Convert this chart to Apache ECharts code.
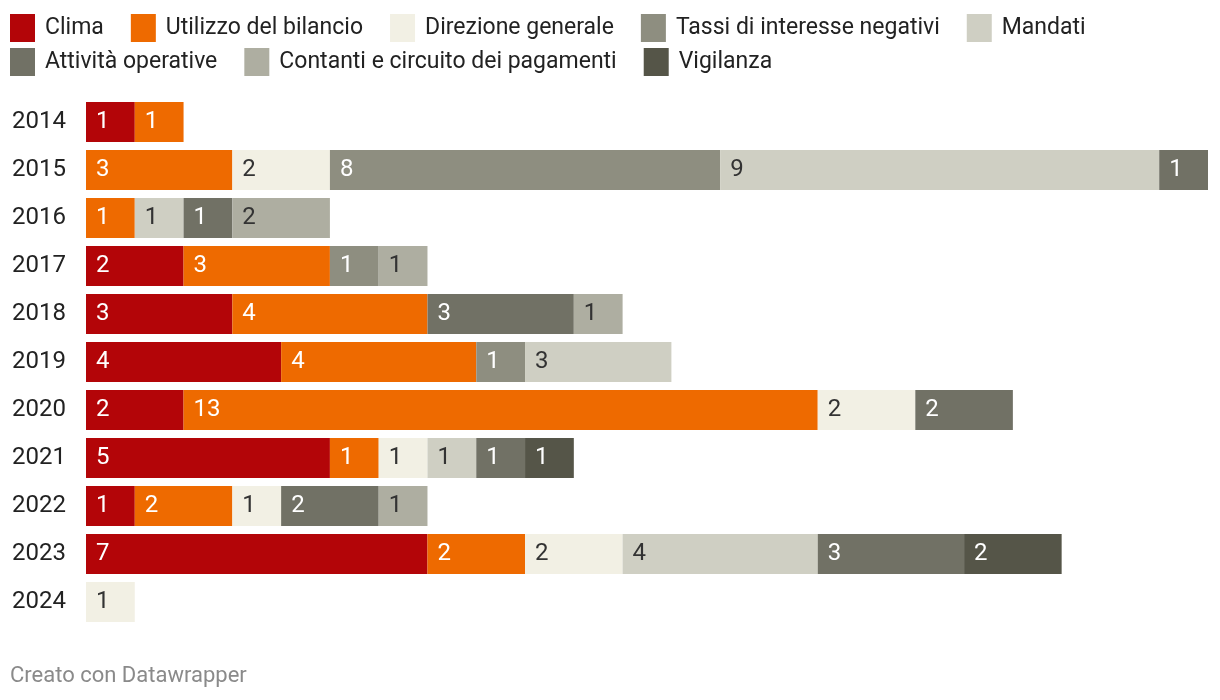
<!DOCTYPE html>
<html>
<head>
<meta charset="utf-8">
<script src="https://cdn.jsdelivr.net/npm/echarts@6/dist/echarts.min.js"></script>
<style>
html,body{margin:0;padding:0;background:#fff;}
#c{width:1220px;height:700px;}
</style>
</head>
<body>
<div id="c"></div>
<script>
const years = ['2014','2015','2016','2017','2018','2019','2020','2021','2022','2023','2024'];
const seriesNames = ['Clima','Utilizzo del bilancio','Direzione generale','Tassi di interesse negativi','Mandati','Attività operative','Contanti e circuito dei pagamenti','Vigilanza'];
const clima      = [1, null, null, 2, 3, 4, 2, 5, 1, 7, null];
const utilizzo   = [1, 3, 1, 3, 4, 4, 13, 1, 2, 2, null];
const direzione  = [null, 2, null, null, null, null, 2, 1, 1, 2, 1];
const tassi      = [null, 8, null, 1, null, 1, null, null, null, null, null];
const mandati    = [null, 9, 1, null, null, 3, null, 1, null, 4, null];
const attivita   = [null, 1, 1, null, 3, null, 2, 1, 2, 3, null];
const contanti   = [null, null, 2, 1, 1, null, null, null, 1, null, null];
const vigilanza  = [null, null, null, null, null, null, null, 1, null, 2, null];
const valuesList = [clima, utilizzo, direzione, tassi, mandati, attivita, contanti, vigilanza];
const colors = ['#b30508','#ee6a00','#f2f0e4','#8e8e80','#cfcfc3','#717165','#aeaea1','#555548'];
const labelColors = ['#ffffff','#ffffff','#333333','#ffffff','#333333','#ffffff','#333333','#ffffff'];

const FONT = 'Roboto';
const chart = echarts.init(document.getElementById('c'), null, {renderer:'canvas'});

const series = seriesNames.map((name, i) => ({
  name: name,
  type: 'bar',
  stack: 'total',
  barWidth: 40,
  data: valuesList[i],
  itemStyle: {color: colors[i]},
  label: {
    show: true,
    position: 'insideLeft',
    distance: 10,
    color: labelColors[i],
    fontFamily: FONT,
    fontSize: 24,
    padding: [4,0,0,0],
    formatter: p => (p.value == null ? '' : p.value)
  },
  emphasis: {disabled: true},
  animation: false
}));

const legendCommon = {
  left: 10,
  padding: 0,
  icon: 'rect',
  itemWidth: 25,
  itemHeight: 28,
  itemGap: 27,
  textStyle: {fontFamily: FONT, fontSize: 23, color: '#222222', padding: [0,0,0,5]},
  selectedMode: false
};

chart.setOption({
  animation: false,
  color: colors,
  legend: [
    Object.assign({}, legendCommon, {top: 14, data: seriesNames.slice(0,5)}),
    Object.assign({}, legendCommon, {top: 48, data: seriesNames.slice(5)})
  ],
  grid: {left: 86, right: 12, top: 98, bottom: 74, containLabel: false},
  xAxis: {
    type: 'value', min: 0, max: 23,
    show: false
  },
  yAxis: {
    type: 'category',
    data: years,
    inverse: true,
    axisLine: {show: false},
    axisTick: {show: false},
    splitLine: {show: false},
    axisLabel: {
      align: 'left',
      margin: 74,
      fontFamily: FONT,
      fontSize: 24,
      padding: [4,0,0,0],
      color: '#222222'
    }
  },
  graphic: [{
    type: 'text',
    left: 10,
    top: 665,
    style: {text: 'Creato con Datawrapper', fontFamily: FONT, fontSize: 22, fill: '#8a8a8a'}
  }],
  series: series
});
</script>
</body>
</html>
